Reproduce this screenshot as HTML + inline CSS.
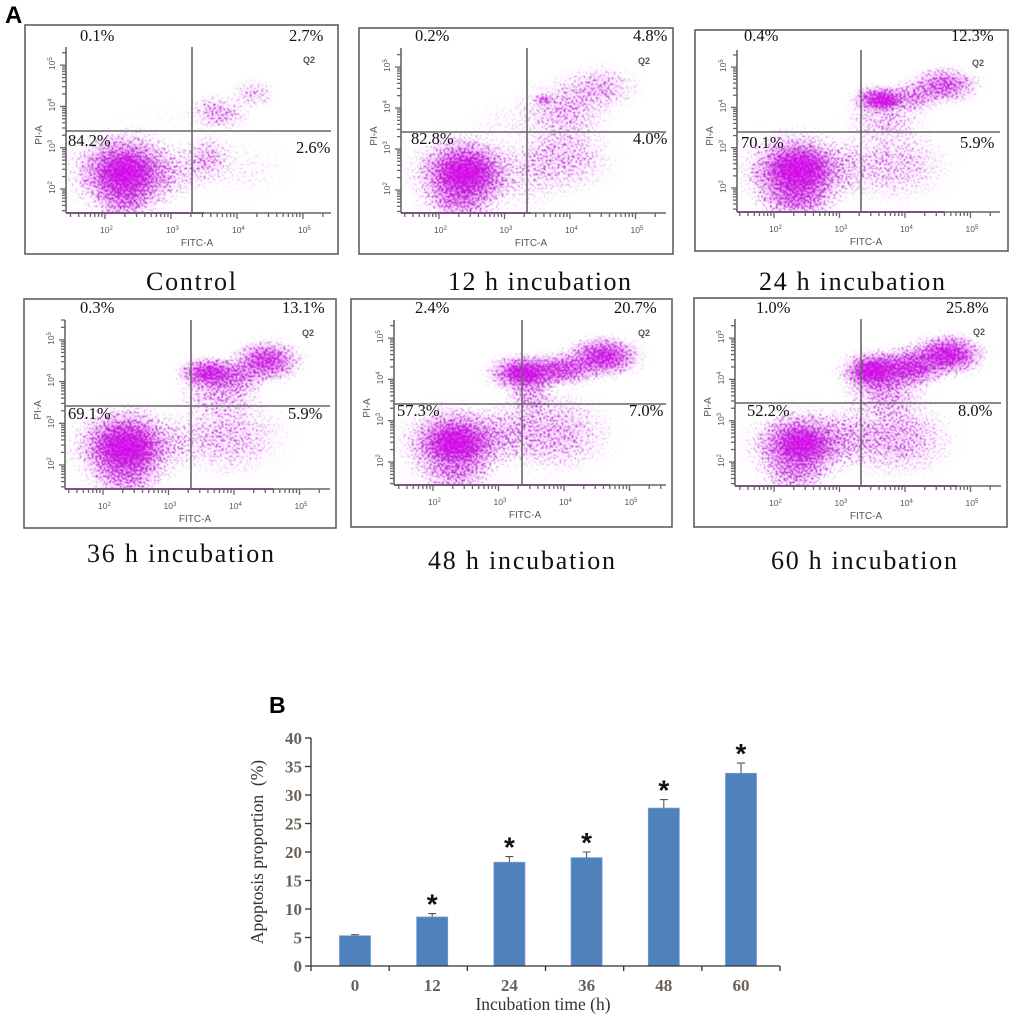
<!DOCTYPE html>
<html lang="en">
<head>
<meta charset="utf-8">
<title>Apoptosis flow cytometry and proportion chart</title>
<style>
html,body{margin:0;padding:0;background:#fff;}
body{width:1020px;height:1020px;overflow:hidden;}
svg{display:block;}
</style>
</head>
<body>
<svg id="figure" xmlns="http://www.w3.org/2000/svg" width="1020" height="1020" viewBox="0 0 1020 1020">
  <defs>
    <radialGradient id="density">
      <stop offset="0" stop-color="#000" stop-opacity="1"/>
      <stop offset="0.2" stop-color="#000" stop-opacity="0.9"/>
      <stop offset="0.4" stop-color="#000" stop-opacity="0.62"/>
      <stop offset="0.6" stop-color="#000" stop-opacity="0.32"/>
      <stop offset="0.8" stop-color="#000" stop-opacity="0.1"/>
      <stop offset="1" stop-color="#000" stop-opacity="0"/>
    </radialGradient>
    <radialGradient id="core-glow">
      <stop offset="0" stop-color="#e000f4" stop-opacity="1"/>
      <stop offset="0.35" stop-color="#da00f0" stop-opacity="0.85"/>
      <stop offset="0.7" stop-color="#d010e8" stop-opacity="0.3"/>
      <stop offset="1" stop-color="#d010e8" stop-opacity="0"/>
    </radialGradient>
    <filter id="speckle" filterUnits="userSpaceOnUse" x="0" y="0" width="1020" height="1020" color-interpolation-filters="sRGB">
      <feTurbulence type="fractalNoise" baseFrequency="0.5" numOctaves="2" seed="7" result="noise"/>
      <feColorMatrix in="noise" type="matrix" values="0 0 0 0 0  0 0 0 0 0  0 0 0 0 0  3.2 0 0 0 -1.1" result="mask"/>
      <feComposite in="SourceAlpha" in2="mask" operator="arithmetic" k1="0" k2="1" k3="1" k4="-1" result="raw"/>
      <feComponentTransfer in="raw" result="hard"><feFuncA type="linear" slope="3.4" intercept="0"/></feComponentTransfer>
      <feGaussianBlur in="hard" stdDeviation="0.45" result="soft"/>
      <feColorMatrix in="soft" type="matrix" values="0 0 0 0 0.72  0 0 0 0 0.14  0 0 0 0 0.82  0 0 0 1 0"/>
    </filter>
    <filter id="soften" x="-2%" y="-2%" width="104%" height="104%"><feGaussianBlur stdDeviation="0.3"/></filter>
  </defs>
  <text x="5" y="23" font-family="'Liberation Sans',sans-serif" font-weight="700" font-size="24" fill="#000">A</text>
  <text x="269" y="713" font-family="'Liberation Sans',sans-serif" font-weight="700" font-size="23" fill="#000">B</text>
  <g id="flow-panels"></g>
  <g id="bar-chart"></g>
</svg>
<script>
// Density clusters: [log10 FITC, log10 PI, radius log FITC, radius log PI, density]
const controlClusters = [[2.3,2.4,1.3,1.4,0.2],[2.3,2.4,0.95,1.2,0.95],[2.3,2.4,0.5,0.6,1],[2.3,1.75,0.6,0.7,0.5],[3.0,2.4,0.8,0.9,0.25],[3.55,2.75,0.5,0.75,0.4],[4.1,2.5,0.9,1.0,0.1],[3.6,3.9,0.45,0.55,0.32],[3.85,3.8,0.45,0.5,0.32],[4.25,4.3,0.45,0.45,0.34],[3.2,3.7,1.2,0.5,0.05]];
const h12Clusters = [[2.4,2.4,1.3,1.4,0.2],[2.4,2.4,0.95,1.15,0.95],[2.4,2.4,0.55,0.6,1],[2.3,1.7,0.7,0.7,0.5],[3.9,2.8,1.0,1.15,0.38],[3.4,2.3,0.7,1.1,0.18],[3.9,3.95,0.95,0.9,0.4],[4.45,4.5,0.8,0.7,0.4],[3.6,4.2,0.18,0.18,0.7],[3.0,3.7,0.7,0.6,0.1]];
const h24Clusters = [[2.35,2.4,1.3,1.4,0.2],[2.35,2.4,0.95,1.2,0.95],[2.4,2.45,0.6,0.7,1],[2.35,1.7,0.75,0.7,0.55],[3.8,2.6,1.15,1.25,0.34],[3.1,2.5,0.6,0.9,0.22],[3.6,4.2,0.55,0.45,0.95],[3.7,4.15,0.3,0.25,1],[4.1,4.25,0.6,0.5,0.55],[4.6,4.55,0.7,0.6,0.72],[3.7,3.7,0.8,0.7,0.36]];
const h36Clusters = [[2.35,2.45,1.3,1.35,0.2],[2.35,2.45,0.95,1.15,0.95],[2.35,2.4,0.6,0.7,1],[2.35,1.7,0.75,0.7,0.5],[3.9,2.7,1.15,1.25,0.36],[3.1,2.5,0.6,0.9,0.18],[3.6,4.2,0.6,0.5,0.95],[4.0,4.15,0.7,0.55,0.6],[4.5,4.5,0.7,0.65,0.85],[3.8,3.7,0.8,0.7,0.42]];
const h48Clusters = [[2.35,2.45,1.3,1.3,0.2],[2.35,2.45,0.95,1.1,0.9],[2.35,2.45,0.55,0.6,1],[2.35,1.7,0.75,0.6,0.45],[3.1,2.7,0.75,0.95,0.32],[3.85,2.7,1.15,1.25,0.42],[3.4,4.15,0.75,0.6,1],[3.4,4.15,0.35,0.3,1],[4.0,4.25,0.7,0.55,0.8],[4.6,4.55,0.75,0.65,0.95],[3.5,3.6,0.5,0.7,0.42]];
const h60Clusters = [[2.4,2.4,1.25,1.3,0.22],[2.4,2.4,0.9,1.05,0.9],[2.45,2.45,0.45,0.5,1],[2.3,1.7,0.65,0.6,0.45],[3.1,2.6,0.75,0.95,0.32],[3.85,2.6,1.15,1.25,0.44],[3.55,4.2,0.7,0.65,1],[3.5,4.2,0.4,0.35,1],[4.1,4.3,0.7,0.65,0.9],[4.65,4.6,0.75,0.65,1],[3.7,3.7,0.8,0.8,0.48]];
// How far along the FITC axis events pile up on the bottom rail (log10 FITC)
const railEnds = [3.5,3.4,4.6,4.6,4.7,4.8];
const panelClusters = [controlClusters,h12Clusters,h24Clusters,h36Clusters,h48Clusters,h60Clusters];
const panelNames = ['control','12h','24h','36h','48h','60h'];
const panelCaptions = ['Control','12 h incubation','24 h incubation','36 h incubation','48 h incubation','60 h incubation'];
const q1Labels = ['0.1%','0.2%','0.4%','0.3%','2.4%','1.0%'];
const q2Labels = ['2.7%','4.8%','12.3%','13.1%','20.7%','25.8%'];
const q3Labels = ['84.2%','82.8%','70.1%','69.1%','57.3%','52.2%'];
const q4Labels = ['2.6%','4.0%','5.9%','5.9%','7.0%','8.0%'];
const axisDecades = [2,3,4,5];

// Page layout of each dot plot (pixels)
const layouts = [
  {fx:25,fy:25,fw:313,fh:229,left:66,right:331,top:47,bottom:213,gx:192,gy:131,x2:105,xd:66,y2:189,yd:41.3,q1:[80,41],q2:[289,41],q3:[68,146],q4:[296,153],cap:[146,290,90]},
  {fx:359,fy:28,fw:314,fh:226,left:401,right:666,top:48,bottom:213,gx:527,gy:132,x2:439,xd:65.5,y2:190,yd:41,q1:[415,41],q2:[633,41],q3:[411,144],q4:[633,144],cap:[448,290,183]},
  {fx:695,fy:30,fw:313,fh:221,left:737,right:1000,top:50,bottom:212,gx:861,gy:132,x2:774,xd:65.5,y2:188,yd:40.3,q1:[744,41],q2:[956,41],q3:[741,148],q4:[960,148],cap:[759,290,186]},
  {fx:24,fy:299,fw:312,fh:229,left:65,right:330,top:320,bottom:489,gx:191,gy:406,x2:103,xd:65.5,y2:465,yd:41.7,q1:[80,313],q2:[287,313],q3:[68,419],q4:[288,419],cap:[87,562,187]},
  {fx:351,fy:299,fw:321,fh:228,left:394,right:666,top:320,bottom:485,gx:522,gy:404,x2:433,xd:65.5,y2:462,yd:41.3,q1:[415,313],q2:[619,313],q3:[397,416],q4:[629,416],cap:[428,569,187]},
  {fx:694,fy:298,fw:313,fh:229,left:735,right:1001,top:319,bottom:486,gx:861,gy:403,x2:774,xd:65.5,y2:462,yd:41.3,q1:[756,313],q2:[951,313],q3:[747,416],q4:[958,416],cap:[771,569,186]}
];

const SVGNS = 'http://www.w3.org/2000/svg';
const SERIF = "'Liberation Serif',serif";
const SANS = "'Liberation Sans',sans-serif";
function make(tag, parent, attrs, text) {
  const n = document.createElementNS(SVGNS, tag);
  for (const k in attrs) n.setAttribute(k, attrs[k]);
  if (text !== undefined) n.textContent = text;
  parent.appendChild(n);
  return n;
}
function xLog(p, v) { return p.x2 + (v - 2) * p.xd; }
function yLog(p, v) { return p.y2 - (v - 2) * p.yd; }

const panelsRoot = document.getElementById('flow-panels');

panelCaptions.forEach(function (caption, i) {
  const p = layouts[i];
  const name = panelNames[i];
  const g = make('g', panelsRoot, {});
  
  

  const frame = make('rect', g, {x:p.fx, y:p.fy, width:p.fw, height:p.fh, fill:'#fff', stroke:'#555', 'stroke-width':1.5});
  
  

  const clipId = 'clip-' + name;
  const clip = make('clipPath', g, {id:clipId});
  make('rect', clip, {x:p.left, y:p.top, width:p.right - p.left, height:p.bottom - p.top + 1});

  const clipped = make('g', g, {'clip-path':'url(#' + clipId + ')'});
  const dots = make('g', clipped, {filter:'url(#speckle)'});
  
  
  const glow = make('g', clipped, {});
  
  
  panelClusters[i].forEach(function (c) {
    const e = make('ellipse', dots, {
      cx: xLog(p, c[0]), cy: yLog(p, c[1]),
      rx: c[2] * p.xd, ry: c[3] * p.yd,
      fill: 'url(#density)', opacity: c[4]
    });
    
    
    const core = make('ellipse', glow, {
      cx: xLog(p, c[0]), cy: yLog(p, c[1]),
      rx: c[2] * p.xd * 0.8, ry: c[3] * p.yd * 0.8,
      fill: 'url(#core-glow)', opacity: c[4] * c[4] * 0.5
    });
    
    
  });

  const rail = make('line', g, {x1:p.left, x2:xLog(p, railEnds[i]), y1:p.bottom, y2:p.bottom, stroke:'#b020c8', 'stroke-width':2});
  
  

  const axes = make('g', g, {stroke:'#666', fill:'none', filter:'url(#soften)'});
  
  
  make('line', axes, {x1:p.left, x2:p.right, y1:p.bottom, y2:p.bottom, 'stroke-width':1.6});
  make('line', axes, {x1:p.left, x2:p.left, y1:p.top, y2:p.bottom, 'stroke-width':1.6});
  for (let d = 1; d <= 5; d++) {
    for (let m = 1; m <= 9; m++) {
      const v = d + Math.log10(m);
      const len = m === 1 ? 6 : 4;
      const tx = xLog(p, v), ty = yLog(p, v);
      if (tx > p.left && tx < p.right) make('line', axes, {x1:tx, x2:tx, y1:p.bottom, y2:p.bottom + len, 'stroke-width':1.3});
      if (ty < p.bottom && ty > p.top) make('line', axes, {x1:p.left, x2:p.left - len, y1:ty, y2:ty, 'stroke-width':1.3});
    }
  }
  make('line', axes, {x1:p.gx, x2:p.gx, y1:p.top, y2:p.bottom, 'stroke-width':1.6});
  make('line', axes, {x1:p.left, x2:p.right, y1:p.gy, y2:p.gy, 'stroke-width':1.6});

  axisDecades.forEach(function (d) {
    const tx = make('text', g, {x:xLog(p, d) - 5, y:p.bottom + 20, 'font-family':SANS, 'font-size':8.5, fill:'#555'}, '10');
    make('tspan', tx, {dy:-3, 'font-size':6}, String(d));
    
    
    const yy = yLog(p, d);
    const ly = make('text', g, {x:0, y:0, transform:'translate(' + (p.left - 11) + ' ' + (yy + 5) + ') rotate(-90)', 'font-family':SANS, 'font-size':8.5, fill:'#555'}, '10');
    make('tspan', ly, {dy:-3, 'font-size':6}, String(d));
    
    
  });

  const xt = make('text', g, {x:p.x2 + 92, y:p.bottom + 33, 'text-anchor':'middle', 'font-family':SANS, 'font-size':10, fill:'#555'}, 'FITC-A');
  
  
  const yt = make('text', g, {x:0, y:0, transform:'translate(' + (p.left - 24) + ' ' + (p.gy + 4) + ') rotate(-90)', 'text-anchor':'middle', 'font-family':SANS, 'font-size':10, fill:'#555'}, 'PI-A');
  
  

  const gate = make('text', g, {x:p.right - 28, y:p.top + 16, 'font-family':SANS, 'font-size':9, 'font-weight':700, fill:'#555'}, 'Q2');
  
  

  const pct = {'font-family':SERIF, 'font-size':16.5, fill:'#111'};
  const t1 = make('text', g, Object.assign({x:p.q1[0], y:p.q1[1]}, pct), q1Labels[i]);
  
  
  const t2 = make('text', g, Object.assign({x:p.q2[0] - (q2Labels[i].length > 4 ? 5 : 0), y:p.q2[1]}, pct), q2Labels[i]);
  
  
  const t3 = make('text', g, Object.assign({x:p.q3[0], y:p.q3[1]}, pct), q3Labels[i]);
  
  
  const t4 = make('text', g, Object.assign({x:p.q4[0], y:p.q4[1]}, pct), q4Labels[i]);
  
  

  const cap = make('text', panelsRoot, {x:p.cap[0], y:p.cap[1], textLength:p.cap[2], lengthAdjust:'spacing', 'font-family':SERIF, 'font-size':26, fill:'#111'}, caption);
  
  
});
</script>
<script>
const barCategories = ['0','12','24','36','48','60'];
const barValues = [5.3,8.6,18.2,19.0,27.7,33.8];
const barErrors = [0.2,0.6,1.0,1.0,1.5,1.8];
const barSignificant = [false,true,true,true,true,true];
const yTickValues = [0,5,10,15,20,25,30,35,40];

(function () {
  const root = document.getElementById('bar-chart');
  const AXIS_X = 311, AXIS_END = 780, BASE_Y = 966, PX_PER_UNIT = 5.7;
  const BAR_W = 31, FIRST_CENTER = 355, STEP = 77.2, TICK_STEP = 78.17;
  const chartFont = "'Liberation Serif',serif";
  function yS(v) { return BASE_Y - v * PX_PER_UNIT; }
  function xS(i) { return FIRST_CENTER + i * STEP; }

  barValues.forEach(function (v, i) {
    const cx = xS(i);
    const top = yS(v);
    const errTop = yS(v + barErrors[i]);
    const err = make('path', root, {d:'M' + cx + ' ' + top + 'V' + errTop + 'M' + (cx - 4) + ' ' + errTop + 'H' + (cx + 4), stroke:'#555', 'stroke-width':1.1, fill:'none'});
    
    
    const bar = make('rect', root, {x:cx - BAR_W / 2, y:top, width:BAR_W, height:BASE_Y - top, fill:'#4f81bd', stroke:'#6f9bd0', 'stroke-width':0.8});
    
    
    if (barSignificant[i]) {
      const star = make('text', root, {x:cx, y:errTop, 'text-anchor':'middle', 'font-family':"'Liberation Sans',sans-serif", 'font-weight':700, 'font-size':28, fill:'#111'}, '*');
      
      
    }
    const lab = make('text', root, {x:cx, y:991, 'text-anchor':'middle', 'font-family':chartFont, 'font-weight':700, 'font-size':17, fill:'#6a615a'}, barCategories[i]);
    
    
  });

  const axes = make('g', root, {stroke:'#333', fill:'none', 'stroke-width':1.3});
  
  
  make('line', axes, {x1:AXIS_X, x2:AXIS_X, y1:yS(40), y2:BASE_Y});
  make('line', axes, {x1:AXIS_X, x2:AXIS_END, y1:BASE_Y, y2:BASE_Y});
  for (let i = 0; i <= barCategories.length; i++) {
    const tx = AXIS_X + i * TICK_STEP;
    make('line', axes, {x1:tx, x2:tx, y1:BASE_Y, y2:BASE_Y + 5});
  }
  yTickValues.forEach(function (v) {
    make('line', axes, {x1:AXIS_X - 6, x2:AXIS_X, y1:yS(v), y2:yS(v)});
    const lab = make('text', root, {x:302, y:yS(v) + 6, 'text-anchor':'end', 'font-family':chartFont, 'font-weight':700, 'font-size':17, fill:'#6a615a'}, String(v));
    
    
  });

  const xTitle = make('text', root, {x:543, y:1010, 'text-anchor':'middle', 'font-family':chartFont, 'font-size':17.5, fill:'#333'}, 'Incubation time (h)');
  
  
  const yTitle = make('text', root, {x:0, y:0, transform:'translate(263 852) rotate(-90)', 'text-anchor':'middle', 'font-family':chartFont, 'font-size':17.5, fill:'#333'}, 'Apoptosis proportion\u00a0\u00a0(%)');
  
  
})();
</script>
</body>
</html>
